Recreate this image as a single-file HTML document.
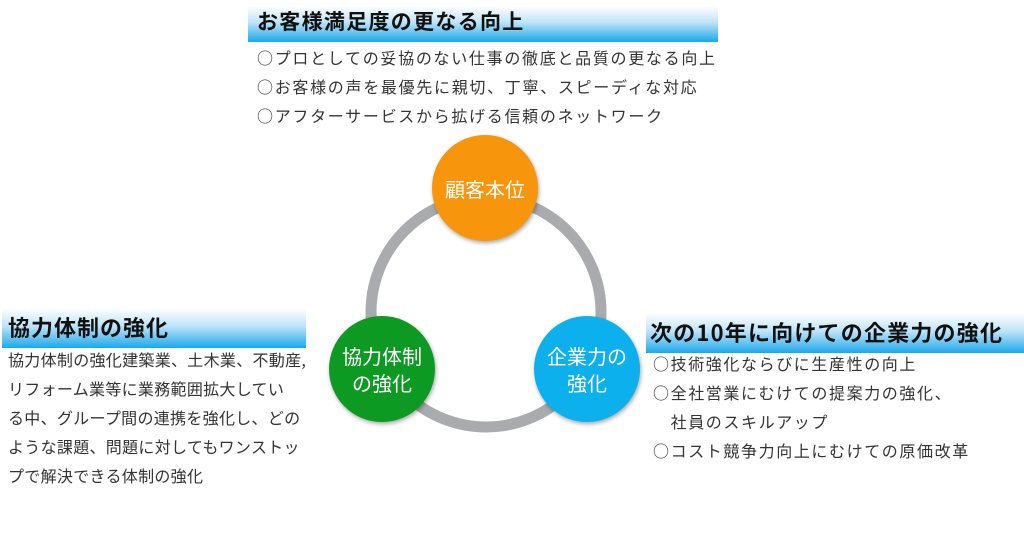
<!DOCTYPE html>
<html><head><meta charset="utf-8"><style>
body{margin:0;width:1024px;height:556px;background:#fff;position:relative;overflow:hidden;font-family:"Noto Sans CJK JP","Liberation Sans",sans-serif;}
.bar{position:absolute;background:linear-gradient(#fff 0%,#bfe4f8 45%,#1aa8ec 100%);}
.t{position:absolute;font-weight:bold;color:#111;white-space:nowrap;}
.l{position:absolute;color:#333;white-space:nowrap;}
.c{position:absolute;border-radius:50%;color:#fff;display:flex;align-items:center;justify-content:center;text-align:center;font-size:20px;line-height:27px;box-shadow:1px 2px 4px rgba(0,0,0,.35);}
</style></head><body>
<div class="bar" style="left:248px;top:6px;width:470px;height:36px"></div>
<div class="t" style="left:257px;top:6px;font-size:21px;line-height:30px;letter-spacing:1.3px">お客様満足度の更なる向上</div>
<div class="l" style="left:257px;top:43px;font-size:16px;line-height:29px;letter-spacing:1.7px">○プロとしての妥協のない仕事の徹底と品質の更なる向上<br>○お客様の声を最優先に親切、丁寧、スピーディな対応<br>○アフターサービスから拡げる信頼のネットワーク</div>

<div class="bar" style="left:2px;top:308px;width:304px;height:40px"></div>
<div class="t" style="left:8px;top:311px;font-size:22px;line-height:32px;letter-spacing:1px">協力体制の強化</div>
<div class="l" style="left:8px;top:345px;font-size:16px;line-height:29px;letter-spacing:0.3px">協力体制の強化建築業、土木業、不動産,<br>リフォーム業等に業務範囲拡大してい<br>る中、グループ間の連携を強化し、どの<br>ような課題、問題に対してもワンストッ<br>プで解決できる体制の強化</div>

<div class="bar" style="left:646px;top:313px;width:378px;height:40px"></div>
<div class="t" style="left:650px;top:316px;font-size:22px;line-height:32px;letter-spacing:1.2px">次の10年に向けての企業力の強化</div>
<div class="l" style="left:653px;top:349px;font-size:16px;line-height:29px;letter-spacing:1.6px">○技術強化ならびに生産性の向上<br>○全社営業にむけての提案力の強化、<br>&#12288;社員のスキルアップ<br>○コスト競争力向上にむけての原価改革</div>

<svg style="position:absolute;left:0;top:0" width="1024" height="556">
<circle cx="486" cy="312" r="115" fill="none" stroke="#a9abae" stroke-width="11"/>
</svg>
<div class="c" style="left:432px;top:135px;width:106px;height:106px;background:#f7960c">顧客本位</div>
<div class="c" style="left:329px;top:316px;width:106px;height:106px;background:#0c9a22">協力体制<br>の強化</div>
<div class="c" style="left:534px;top:316px;width:106px;height:106px;background:#0bb0ec">企業力の<br>強化</div>
</body></html>
